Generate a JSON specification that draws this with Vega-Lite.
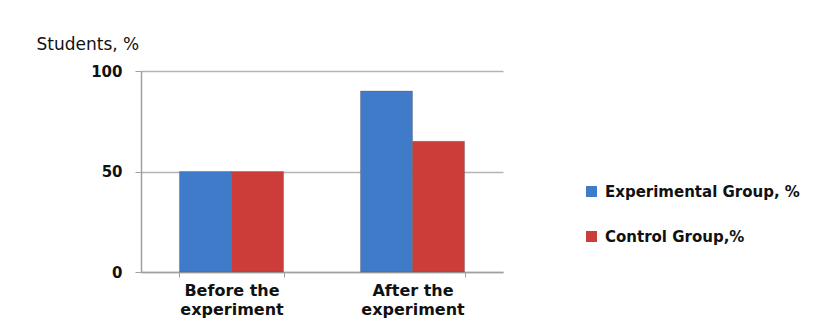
{
  "$schema": "https://vega.github.io/schema/vega-lite/v6.json",
  "autosize": {"type": "none"},
  "padding": {"left": 141, "top": 71, "right": 337, "bottom": 59},
  "width": 362,
  "height": 201,
  "background": "white",
  "data": {
    "values": [
      {"Stage": "Before the experiment", "Group": "Experimental Group, %", "Value": 50},
      {"Stage": "Before the experiment", "Group": "\u00a0Control Group,%", "Value": 50},
      {"Stage": "After the experiment", "Group": "Experimental Group, %", "Value": 90},
      {"Stage": "After the experiment", "Group": "\u00a0Control Group,%", "Value": 65}
    ]
  },
  "mark": {"type": "bar", "stroke": "#5a5a5a", "strokeOpacity": 0.35, "strokeWidth": 1},
  "encoding": {
    "x": {
      "field": "Stage",
      "type": "nominal",
      "sort": ["Before the experiment", "After the experiment"],
      "scale": {"paddingInner": 0.425, "paddingOuter": 0.2125},
      "axis": {
        "title": null,
        "labelAngle": 0,
        "labelExpr": "datum.value == 'Before the experiment' ? ['Before the', 'experiment'] : (datum.value == 'After the experiment' ? ['After the', 'experiment'] : '')",
        "labelFont": "DejaVu Sans",
        "labelFontWeight": "bold",
        "labelFontSize": 16,
        "labelLineHeight": 19,
        "labelColor": "#111111",
        "labelPadding": 5,
        "tickBand": "extent",
        "tickSize": 5,
        "tickColor": "#a0a0a0",
        "domainColor": "#a0a0a0",
        "domainWidth": 1.5
      }
    },
    "xOffset": {
      "field": "Group",
      "type": "nominal",
      "sort": ["Experimental Group, %", "\u00a0Control Group,%"],
      "scale": {"paddingInner": 0, "paddingOuter": 0}
    },
    "y": {
      "field": "Value",
      "type": "quantitative",
      "scale": {"domain": [0, 100]},
      "axis": {
        "values": [0, 50, 100],
        "title": "Students, %",
        "titleAngle": 0,
        "titleAlign": "left",
        "titleBaseline": "alphabetic",
        "titleX": -105,
        "titleY": -22,
        "titleFont": "DejaVu Sans",
        "titleFontWeight": "normal",
        "titleFontSize": 17,
        "titleColor": "#111111",
        "labelFont": "DejaVu Sans",
        "labelFontWeight": "bold",
        "labelFontSize": 15,
        "labelColor": "#111111",
        "labelPadding": 13,
        "tickSize": 6,
        "tickColor": "#a0a0a0",
        "domainColor": "#a0a0a0",
        "domainWidth": 1.5,
        "grid": true,
        "gridColor": "#b4b4b4",
        "gridWidth": 1.5
      }
    },
    "color": {
      "field": "Group",
      "type": "nominal",
      "sort": ["Experimental Group, %", "\u00a0Control Group,%"],
      "scale": {"range": ["#3f7bc8", "#cc3d3a"]},
      "legend": {
        "title": null,
        "orient": "none",
        "legendX": 443,
        "legendY": 113,
        "symbolType": "square",
        "symbolSize": 120,
        "symbolStrokeWidth": 0,
        "rowPadding": 29,
        "labelFont": "DejaVu Sans",
        "labelFontWeight": "bold",
        "labelFontSize": 15,
        "labelLimit": 400,
        "labelColor": "#111111",
        "labelOffset": 6,
        "padding": 0
      }
    }
  },
  "config": {
    "view": {"stroke": null},
    "axis": {"labelFlush": false}
  }
}
